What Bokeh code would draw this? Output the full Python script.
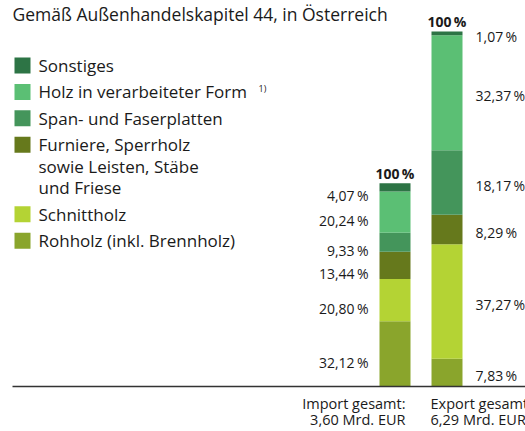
from bokeh.plotting import figure
from bokeh.models import Range1d
from bokeh.embed import file_html
from bokeh.resources import INLINE
from bokeh.core.properties import value

# ---------------- data ----------------
title_text = "Gemäß Außenhandelskapitel 44, in Österreich"
categories = ["Import", "Export"]
totals_bn = [3.60, 6.29]
total_label_lines = [["Import gesamt:", "3,60 Mrd. EUR"], ["Export gesamt:", "6,29 Mrd. EUR"]]
segments = [
    "Rohholz (inkl. Brennholz)",
    "Schnittholz",
    "Furniere, Sperrholz\nsowie Leisten, Stäbe\nund Friese",
    "Span- und Faserplatten",
    "Holz in verarbeiteter Form",
    "Sonstiges",
]
import_share = [32.12, 20.80, 13.44, 9.33, 20.24, 4.07]
export_share = [7.83, 32.27, 8.29, 18.17, 32.37, 1.07]   # as drawn in the picture
import_labels = ["32,12", "20,80", "13,44", "9,33", "20,24", "4,07"]
export_labels = ["7,83", "37,27", "8,29", "18,17", "32,37", "1,07"]
top_label = "100"
footnote_mark = "1)"

colors = ["#8aa52c", "#b4d334", "#66791c", "#44955b", "#5bbf74", "#2d7445"]

# ---------------- layout helpers ----------------
FONT = value("Open Sans")
TXT = "#1a1a1a"
W, H = 525, 431
PX = 355 / 6.29          # pixels per bn EUR
BASE = 386               # screen y of the baseline
def yd(sy):
    return (BASE - sy) / PX

p = figure(width=W, height=H,
           x_range=Range1d(0, W), y_range=Range1d(yd(H), yd(0)),
           x_axis_type=None, y_axis_type=None, min_border=0,
           toolbar_location=None, output_backend="svg")
p.outline_line_color = None
p.background_fill_color = "white"
p.border_fill_color = "white"
p.grid.visible = False

# ---------------- bars ----------------
bar_w = 31
bar_x = [394.5 + 52 * i for i in range(len(categories))]
shares = [import_share, export_share]
labels = [import_labels, export_labels]
nudge = [8.5, 3.0]
for ci, (tot, sh, lab) in enumerate(zip(totals_bn, shares, labels)):
    bottoms, tops = [], []
    acc = 0.0
    for s in sh:
        v = tot * s / 100.0
        bottoms.append(acc)
        acc += v
        tops.append(acc)
    p.vbar(x=[bar_x[ci]] * len(sh), bottom=bottoms, top=tops, width=bar_w,
           fill_color=colors, line_color=None)
    mids = [(b + t) / 2 for b, t in zip(bottoms, tops)]
    ly = [m - nudge[ci] / PX for m in mids]
    if ci == 0:
        lx = [bar_x[ci] - bar_w / 2 - 11] * len(sh)
        align = "right"
    else:
        lx = [bar_x[ci] + bar_w / 2 + 13] * len(sh)
        align = "left"
    p.text(x=lx, y=ly, text=[l + "\u2009%" for l in lab], text_align=align,
           text_baseline="middle", text_font=FONT, text_font_size="14px",
           text_color=TXT)
    # 100 % on top
    p.text(x=[bar_x[ci]], y=[acc + 10 / PX], text=[top_label + "\u2009%"],
           text_align="center", text_baseline="middle", text_font=FONT,
           text_font_size="14px", text_font_style="bold", text_color=TXT)

# bottom category labels
for ci, lines in enumerate(total_label_lines):
    if ci == 0:
        x = bar_x[ci] + bar_w / 2 - 5
        align = "right"
    else:
        x = bar_x[ci] - bar_w / 2 - 1
        align = "left"
    p.text(x=[x] * len(lines), y=[yd(402.5 + 16 * k) for k in range(len(lines))],
           text=lines, text_align=align, text_baseline="middle",
           text_font=FONT, text_font_size="14.5px", text_color=TXT)

# baseline
p.segment(x0=[12], x1=[530], y0=[0], y1=[0], line_color="#333333", line_width=1.5)

# title
p.text(x=[12], y=[yd(13)], text=[title_text], text_align="left",
       text_baseline="middle", text_font=FONT, text_font_size="17.5px",
       text_color=TXT)

# legend (top to bottom = reversed stack order)
leg_items = list(zip(segments, colors))[::-1]
cy = 65.0
sq_y, sq_c, tx_y, tx_t = [], [], [], []
for name, col in leg_items:
    sq_y.append(yd(cy))
    sq_c.append(col)
    for k, line in enumerate(name.split("\n")):
        tx_y.append(yd(cy + 21.6 * k))
        tx_t.append(line)
    cy += 26.4 + 21.6 * (len(name.split("\n")) - 1)
p.rect(x=[22] * len(sq_y), y=sq_y, width=16, height=16, width_units="screen",
       height_units="screen", fill_color=sq_c, line_color=None)
p.text(x=[38] * len(tx_y), y=tx_y, text=tx_t, text_align="left",
       text_baseline="middle", text_font=FONT, text_font_size="17px",
       text_color=TXT)
p.text(x=[258], y=[yd(88)], text=[footnote_mark], text_align="left",
       text_baseline="middle", text_font=FONT, text_font_size="9px",
       text_color=TXT)

open("out.html", "w").write(file_html(p, INLINE))
